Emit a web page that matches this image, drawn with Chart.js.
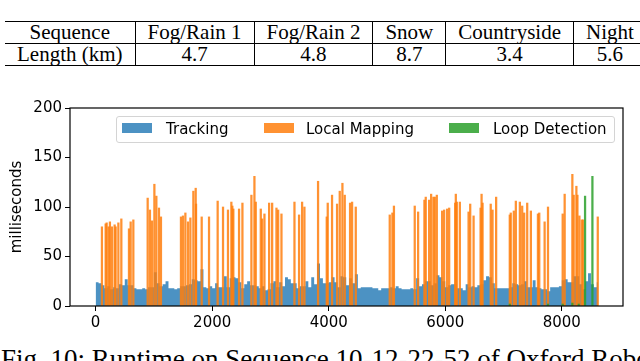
<!DOCTYPE html>
<html>
<head>
<meta charset="utf-8">
<script src="https://cdn.jsdelivr.net/npm/chart.js@4.4.1/dist/chart.umd.min.js"></script>
<style>
  html, body { margin: 0; padding: 0; background: #fff; }
  body { width: 640px; height: 361px; position: relative; overflow: hidden; }
  .serif { font-family: "Liberation Serif", "Times New Roman", serif; color: #000; white-space: nowrap; }
  #above { position: absolute; left: 138px; top: -30px; font-size: 27px; line-height: 27px; }
  #caption { position: absolute; left: 1px; top: 346px; font-size: 27px; line-height: 27px; }
  table.serif { position: absolute; left: 5px; top: 21px; border-collapse: collapse;
    font-size: 21px; border-top: 1.5px solid #000; border-bottom: 1.5px solid #000; }
  table td { padding: 0 12px; height: 21px; line-height: 21px; text-align: center; border-left: 1px solid #000; }
  table td:first-child { border-left: none; }
  table tr:first-child td { border-bottom: 1px solid #000; }
  #chart { position: absolute; left: 0; top: 90px; }
  #legend { position: absolute; left: 116px; top: 116px; width: 497px; height: 25px;
    border: 1px solid #d4d4d4; border-radius: 3px; background: rgba(255,255,255,0.8);
    font-family: "DejaVu Sans", sans-serif; font-size: 15px; color: #000; }
  #legend .sw { position: absolute; top: 6px; width: 30px; height: 10px; }
  #legend .lb { position: absolute; top: 3px; line-height: 18px; white-space: nowrap; }
</style>
</head>
<body>
<div id="above" class="serif">Sequence Length</div>

<table class="serif">
  <tr><td>Sequence</td><td>Fog/Rain 1</td><td>Fog/Rain 2</td><td>Snow</td><td>Countryside</td><td>Night</td></tr>
  <tr><td>Length (km)</td><td>4.7</td><td>4.8</td><td>8.7</td><td>3.4</td><td>5.6</td></tr>
</table>

<canvas id="chart" width="640" height="250"></canvas>

<div id="legend">
  <div class="sw" style="left:5px;background:rgba(31,119,180,0.8)"></div>
  <div class="lb" style="left:49px">Tracking</div>
  <div class="sw" style="left:147px;background:rgba(255,127,14,0.85)"></div>
  <div class="lb" style="left:189px">Local Mapping</div>
  <div class="sw" style="left:332px;background:rgba(44,160,44,0.85)"></div>
  <div class="lb" style="left:376px">Loop Detection</div>
</div>

<div id="caption" class="serif">Fig. 10: Runtime on Sequence 10-12-22-52 of Oxford RobotCar dataset.</div>

<script>
// tracking time, one value per 50 frames
const trackStep = 50;
const trackEnd = 8620;
const trackValues = [
  24, 23, 21, 18, 20, 17, 19, 18, 22, 21, 27, 21, 21, 18, 17, 17, 18, 17, 19, 19,
  34, 23, 20, 22, 25, 18, 18, 17, 18, 20, 20, 21, 22, 27,
  26, 25, 37, 19, 18, 20, 18, 23, 19, 19, 30, 19, 28, 29, 28, 24, 18, 22, 25, 21,
  21, 20, 18, 20, 16, 17, 23, 25, 19, 24, 20, 29, 27, 23, 23,
  18, 20, 20, 25, 19, 29, 22, 43, 28, 23, 23, 24, 29, 24, 19, 30, 29, 21, 28, 23,
  32, 18, 19, 19, 19, 19, 18, 18, 16, 18, 18, 18, 19,
  18, 20, 18, 17, 17, 17, 18, 17, 28, 20, 22, 25, 25, 21, 23, 31, 29, 25, 19, 21,
  22, 22, 18, 18, 16, 22, 19, 20, 19, 21, 22, 26, 30, 29, 23,
  18, 18, 18, 18, 18, 19, 23, 22, 21, 22, 25, 19, 19, 26, 19, 18, 17, 17, 15, 19,
  19, 19, 20, 26, 27, 24, 24, 30, 30, 22, 17, 25, 33, 22, 19, 24
];

// local mapping spikes: frame index and milliseconds
const mapFrames = [
  108, 172, 189, 223, 245, 280, 326, 343, 390, 441,
  572, 601, 647, 893, 932, 967, 1008, 1042, 1087, 1121,
  1464, 1499, 1540, 1585, 1626, 1677, 1717, 1723, 1820, 1946,
  2094, 2186, 2271, 2329, 2346, 2363, 2461, 2519, 2673, 2725,
  2748, 2834, 2857, 2897, 2977, 3029, 3103, 3132, 3189, 3412,
  3491, 3543, 3583, 3817, 3966, 3983, 4057, 4143, 4189, 4235,
  4275, 4366, 4401, 4464, 5047, 5093, 5119, 5476, 5534, 5642,
  5665, 5723, 5757, 5797, 5820, 5855, 5946, 5981, 6032, 6067,
  6170, 6181, 6198, 6250, 6400, 6428, 6486, 6606, 6623, 6640,
  6780, 6811, 6873, 7107, 7124, 7176, 7211, 7280, 7320, 7354,
  7406, 7469, 7590, 7613, 7705, 7763, 8015, 8049, 8181, 8204,
  8250, 8268, 8302, 8342, 8365, 8617
];
const mapValues = [
  80, 83, 84, 80, 85, 80, 82, 80, 84, 88,
  78, 85, 87, 109, 97, 86, 123, 111, 99, 90,
  90, 91, 94, 85, 89, 116, 119, 103, 90, 90,
  106, 100, 97, 105, 101, 98, 98, 104, 112, 131,
  105, 98, 88, 93, 104, 104, 99, 97, 93, 105,
  92, 105, 100, 126, 90, 104, 112, 103, 116, 124,
  112, 104, 105, 100, 92, 94, 101, 101, 95, 107,
  110, 107, 113, 110, 110, 112, 96, 97, 98, 99,
  104, 113, 105, 105, 95, 103, 91, 99, 113, 104,
  103, 97, 110, 92, 94, 96, 106, 105, 101, 94,
  104, 96, 93, 94, 85, 100, 93, 113, 133, 112,
  121, 112, 91, 87, 87, 90
];

// loop detection
const loopFrames = [7107, 7763, 8015, 8181, 8290, 8399, 8525];
const loopValues = [2, 2, 2, 3, 2, 111, 131];

const xTicks = [0, 2000, 4000, 6000, 8000];
const yTicks = [0, 50, 100, 150, 200];

const tickFont = { family: "DejaVu Sans", size: 15 };

const trackData = trackValues.map((v, i) => ({ x: i * trackStep, y: v }));
trackData.push({ x: trackEnd, y: trackValues[trackValues.length - 1] });

const frame = {
  id: "frame",
  afterDraw(chart) {
    const { ctx, chartArea: a } = chart;
    ctx.save();
    ctx.strokeStyle = "#000";
    ctx.lineWidth = 1.2;
    ctx.strokeRect(a.left, a.top, a.right - a.left, a.bottom - a.top);
    ctx.restore();
  }
};

new Chart(document.getElementById("chart"), {
  type: "bar",
  data: {
    datasets: [
      {
        type: "line",
        label: "Tracking",
        data: trackData,
        stepped: true,
        fill: "origin",
        backgroundColor: "rgba(31,119,180,0.8)",
        borderColor: "rgba(0,0,0,0)",
        borderWidth: 0,
        pointRadius: 0,
        order: 2
      },
      {
        label: "Local Mapping",
        data: mapFrames.map((f, i) => ({ x: f, y: mapValues[i] })),
        backgroundColor: "rgba(255,127,14,0.85)",
        barThickness: 1.6,
        stack: "k",
        order: 1
      },
      {
        label: "Loop Detection",
        data: loopFrames.map((f, i) => ({ x: f, y: loopValues[i] })),
        backgroundColor: "rgba(44,160,44,0.85)",
        barThickness: 1.6,
        stack: "k",
        order: 0
      }
    ]
  },
  options: {
    responsive: false,
    animation: false,
    devicePixelRatio: 1,
    events: [],
    layout: { padding: { left: 0, right: 17, top: 18, bottom: 0 } },
    plugins: { legend: { display: false }, tooltip: { enabled: false } },
    scales: {
      x: {
        type: "linear",
        min: -440,
        max: 9050,
        offset: false,
        grid: { display: true, offset: false, drawOnChartArea: false, drawTicks: true, tickLength: 5, tickColor: "#000" },
        border: { display: false },
        ticks: { font: tickFont, color: "#000", padding: 3, maxRotation: 0, callback: v => String(v) },
        afterBuildTicks: s => { s.ticks = xTicks.map(v => ({ value: v })); },
        afterFit: s => { s.height = 34; }
      },
      y: {
        min: 0,
        max: 200,
        stacked: false,
        grid: { display: true, drawOnChartArea: false, drawTicks: true, tickLength: 5, tickColor: "#000" },
        border: { display: false },
        ticks: { font: tickFont, color: "#000", padding: 3, callback: v => String(v) },
        afterBuildTicks: s => { s.ticks = yTicks.map(v => ({ value: v })); },
        afterFit: s => { s.width = 70; },
        title: { display: true, text: "milliseconds", font: tickFont, color: "#000", padding: { top: 8, bottom: 0 } }
      }
    }
  },
  plugins: [frame]
});
</script>
</body>
</html>
